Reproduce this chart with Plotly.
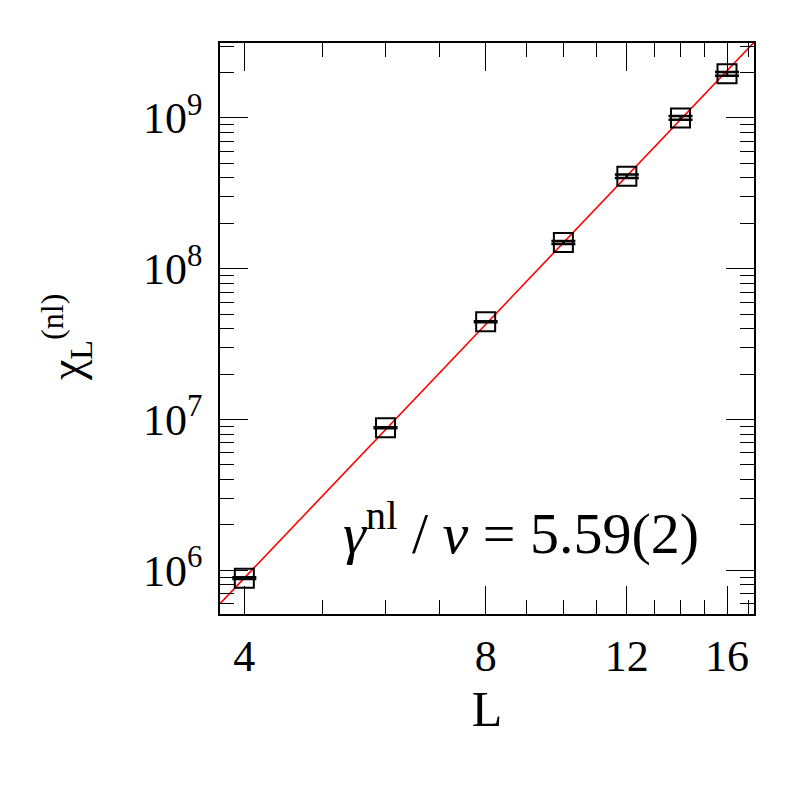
import numpy as np
import plotly.graph_objects as go

# data
L_vals = [4, 6, 8, 10, 12, 14, 16]
chi_vals = [8.85e5, 8.8e6, 4.45e7, 1.49e8, 4.1e8, 1.0e9, 1.96e9]
chi_err = [1.2e4, 8e4, 3.5e5, 3.5e6, 1.1e7, 2.8e7, 5.5e7]

fit_exponent = 5.59
fit_amp = 10 ** 2.582
L_fit_range = [3.73, 17.29]

x_major = [4, 8, 12, 16]
x_major_text = ["4", "8", "12", "16"]
x_minor = [5, 6, 7, 9, 10, 11, 13, 14, 15, 17]
y_major = [1e6, 1e7, 1e8, 1e9]
y_major_text = ["10<sup>6</sup>", "10<sup>7</sup>", "10<sup>8</sup>", "10<sup>9</sup>"]
y_minor = [k * 10 ** n for n in range(5, 10) for k in range(2, 10)]

FONT = "Liberation Serif"

fig = go.Figure()

L_line = np.array(L_fit_range)
fig.add_trace(go.Scatter(
    x=L_line, y=fit_amp * L_line ** fit_exponent, mode="lines",
    line=dict(color="red", width=1.6), showlegend=False, hoverinfo="skip"))

fig.add_trace(go.Scatter(
    x=L_vals, y=chi_vals, mode="markers",
    marker=dict(symbol="square-open", size=19, color="black", line=dict(width=2, color="black")),
    error_y=dict(type="data", array=chi_err, visible=True, color="black", thickness=2.5, width=12),
    showlegend=False))

axis_common = dict(
    type="log", showgrid=False, zeroline=False, showline=True, linecolor="black", linewidth=1.5,
    mirror="allticks", ticks="inside", ticklen=28, tickwidth=1.3, tickcolor="black",
    tickfont=dict(family=FONT, size=44, color="black"),
)

fig.update_xaxes(
    **axis_common,
    range=[np.log10(L_fit_range[0]), np.log10(L_fit_range[1])],
    tickmode="array", tickvals=x_major, ticktext=x_major_text,
    minor=dict(tickmode="array", tickvals=x_minor, ticks="inside", ticklen=14, tickwidth=1.3, tickcolor="black"),
    ticklabelstandoff=2,
    title=dict(text="L", font=dict(family=FONT, size=50, color="black"), standoff=8),
)

fig.update_yaxes(
    **axis_common,
    range=[5.709, 9.497],
    tickmode="array", tickvals=y_major, ticktext=y_major_text,
    minor=dict(tickmode="array", tickvals=y_minor, ticks="inside", ticklen=14, tickwidth=1.3, tickcolor="black"),
    ticklabelstandoff=7,
)

fig.add_annotation(
    text="χ<sub>L</sub><sup>(nl)</sup>", textangle=-90, showarrow=False,
    xref="paper", yref="paper", x=0, y=0.485, xshift=-154, xanchor="center", yanchor="middle",
    font=dict(family=FONT, size=46, color="black"))

fig.add_annotation(
    text="<i>γ</i><sup>nl</sup> / <i>ν</i> = 5.59(2)", showarrow=False,
    xref="paper", yref="paper", x=0.564, y=0.148, xanchor="center", yanchor="middle",
    font=dict(family=FONT, size=58, color="black"))

fig.update_layout(
    width=797, height=797,
    margin=dict(l=212, r=51, t=35, b=191),
    paper_bgcolor="white", plot_bgcolor="white",
)

fig.write_html("out.html")
